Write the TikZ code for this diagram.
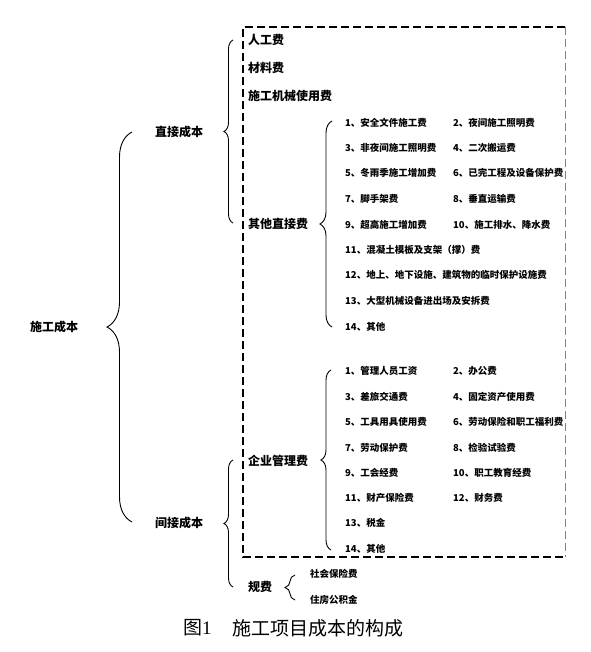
\documentclass[tikz,border=0pt]{standalone}
\usepackage{fontspec}
\setmainfont{Noto Sans CJK SC}
\newfontfamily\capserif{Liberation Serif}
\usetikzlibrary{decorations.pathreplacing}
\begin{document}
\begin{tikzpicture}[x=1pt,y=-1pt,
  lbl/.style={anchor=west,inner sep=0pt,font=\fontsize{12}{14}\selectfont\bfseries},
  itm/.style={anchor=west,inner sep=0pt,font=\fontsize{9.5}{11}\selectfont\bfseries},
  captext/.style={anchor=west,inner sep=0pt,font=\fontsize{19}{22}\selectfont},
  brc/.style={decorate,decoration={brace,amplitude=#1},line width=0.9pt},
  boxline/.style={dash pattern=on 8pt off 4pt,line width=1.1pt}]
\useasboundingbox (0,0) rectangle (590,652);

% dashed box
\coordinate (bTL) at (243,27);
\coordinate (bTR) at (565,27);
\coordinate (bBL) at (243,557);
\coordinate (bBR) at (565,557);
\draw[boxline] (bTR) -- (bTL) -- (bBL) -- (bBR);
\draw[dash pattern=on 8pt off 4pt,line width=0.6pt,gray] (bTR) -- (bBR);

% level 0
\node[lbl] (root) at (30,327) {施工成本};
% level 1
\node[lbl] (direct) at (155,132) {直接成本};
\node[lbl] (indirect) at (155,523) {间接成本};
% level 2
\node[lbl] (labor) at (248,40) {人工费};
\node[lbl] (mat) at (248,68) {材料费};
\node[lbl] (mach) at (248,96) {施工机械使用费};
\node[lbl] (other) at (248,224) {其他直接费};
\node[lbl] (mgmt) at (248,461) {企业管理费};
\node[lbl] (fees) at (248,587) {规费};

% other direct cost items
\node[itm] (o1) at (345,123) {1、安全文件施工费};
\node[itm] (o2) at (453,123) {2、夜间施工照明费};
\node[itm] (o3) at (345,148) {3、非夜间施工照明费};
\node[itm] (o4) at (453,148) {4、二次搬运费};
\node[itm] (o5) at (345,173) {5、冬雨季施工增加费};
\node[itm] (o6) at (453,173) {6、已完工程及设备保护费};
\node[itm] (o7) at (345,199) {7、脚手架费};
\node[itm] (o8) at (453,199) {8、垂直运输费};
\node[itm] (o9) at (345,225) {9、超高施工增加费};
\node[itm] (o10) at (453,225) {10、施工排水、降水费};
\node[itm] (o11) at (345,250) {11、混凝土模板及支架（撑）费};
\node[itm] (o12) at (345,275) {12、地上、地下设施、建筑物的临时保护设施费};
\node[itm] (o13) at (345,301) {13、大型机械设备进出场及安拆费};
\node[itm] (o14) at (345,327) {14、其他};

% management items
\node[itm] (m1) at (345,371) {1、管理人员工资};
\node[itm] (m2) at (453,371) {2、办公费};
\node[itm] (m3) at (345,397) {3、差旅交通费};
\node[itm] (m4) at (453,397) {4、固定资产使用费};
\node[itm] (m5) at (345,422) {5、工具用具使用费};
\node[itm] (m6) at (453,422) {6、劳动保险和职工福利费};
\node[itm] (m7) at (345,448) {7、劳动保护费};
\node[itm] (m8) at (453,448) {8、检验试验费};
\node[itm] (m9) at (345,473) {9、工会经费};
\node[itm] (m10) at (453,473) {10、职工教育经费};
\node[itm] (m11) at (345,498) {11、财产保险费};
\node[itm] (m12) at (453,498) {12、财务费};
\node[itm] (m13) at (345,523) {13、税金};
\node[itm] (m14) at (345,549) {14、其他};

% fees items
\node[itm] (f1) at (310,574) {社会保险费};
\node[itm] (f2) at (310,600) {住房公积金};

% caption
\node[captext] (capnum) at (183,628) {图{\capserif 1}};
\node[captext] (captxt) at (232,628) {施工项目成本的构成};

% braces
\coordinate (r1) at (132,522); \coordinate (r2) at (132,132);
\draw[brc=25pt] (r1) -- (r2);
\coordinate (d1) at (233,223); \coordinate (d2) at (233,40);
\draw[brc=9pt] (d1) -- (d2);
\coordinate (i1) at (233,587); \coordinate (i2) at (233,460);
\draw[brc=9pt] (i1) -- (i2);
\coordinate (od1) at (332,327); \coordinate (od2) at (332,121);
\draw[brc=12pt] (od1) -- (od2);
\coordinate (mg1) at (331,550); \coordinate (mg2) at (331,370);
\draw[brc=10pt] (mg1) -- (mg2);
\coordinate (fe1) at (295,600); \coordinate (fe2) at (295,575);
\draw[brc=10pt] (fe1) -- (fe2);
\end{tikzpicture}
\end{document}
